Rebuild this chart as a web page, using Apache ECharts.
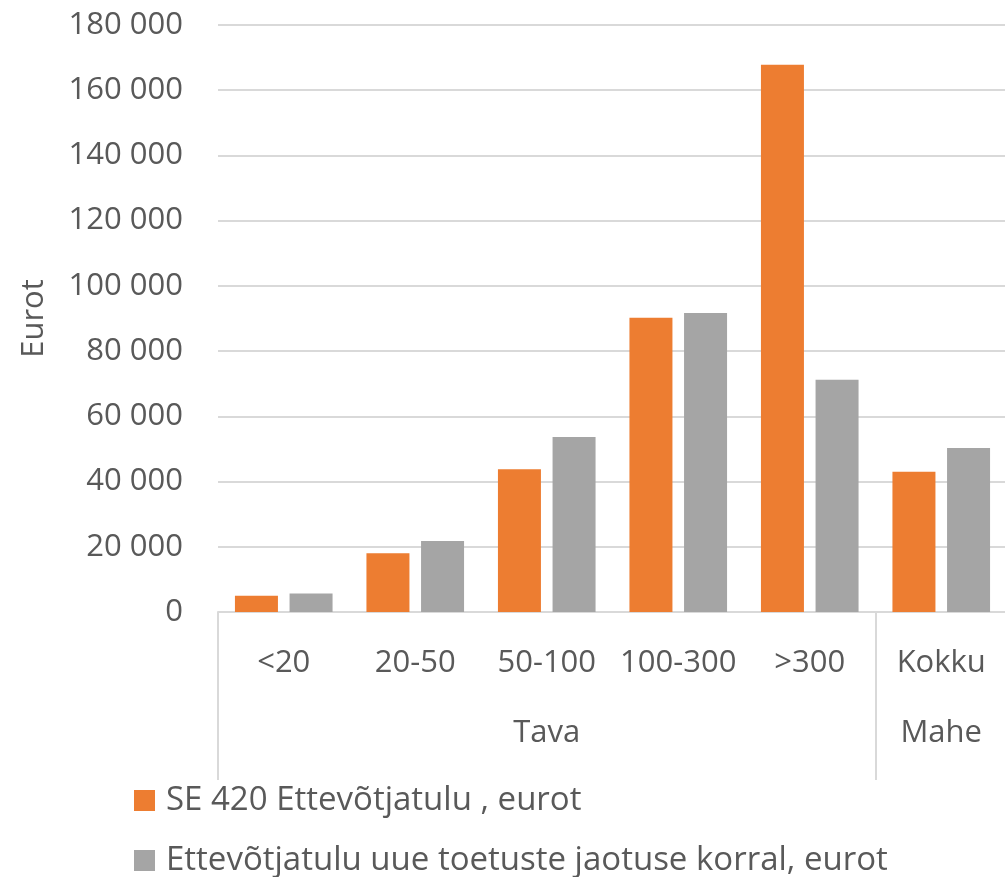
<!DOCTYPE html>
<html>
<head>
<meta charset="utf-8">
<script src="https://cdn.jsdelivr.net/npm/echarts@6/dist/echarts.min.js"></script>
<style>
  html, body { margin: 0; padding: 0; background: #fff; overflow: hidden; }
  #chart { width: 1005px; height: 877px; }
</style>
</head>
<body>
<div id="chart"></div>
<script>
// kategooriad ja grupid
var categories = ['<20', '20-50', '50-100', '100-300', '>300', 'Kokku'];
var groups = ['Tava', 'Mahe'];
var groupSizes = [5, 1];
var seriesNames = ['SE 420 Ettevõtjatulu , eurot', 'Ettevõtjatulu uue toetuste jaotuse korral, eurot'];
var se420 = [5000, 18000, 43800, 90200, 167800, 43000];
var uusJaotus = [5700, 21800, 53700, 91700, 71200, 50300];
var yTicks = [0, 20000, 40000, 60000, 80000, 100000, 120000, 140000, 160000, 180000];

var textColor = '#595959';
var fontFamily = '"Open Sans", sans-serif';
var chart = echarts.init(document.getElementById('chart'));

// grupi sildi asukoht (grupi keskkoht kategooriate skaalal)
var groupCenters = {};
var groupStarts = [];
var acc = 0;
groupSizes.forEach(function (n, i) {
  groupStarts.push(acc);
  groupCenters[(acc + n / 2).toFixed(1)] = groups[i];
  acc += n;
});

function legendFor(name, top) {
  return {
    orient: 'horizontal',
    left: 134,
    top: top,
    padding: 0,
    itemWidth: 21,
    itemHeight: 21,
    icon: 'rect',
    selectedMode: false,
    textStyle: { fontSize: 33, color: textColor, fontFamily: fontFamily, padding: [0, 0, 0, 6] },
    data: [name]
  };
}

chart.setOption({
  animation: false,
  textStyle: { fontFamily: fontFamily, color: textColor },
  grid: { left: 218, width: 789, top: 25, bottom: 265, outerBoundsMode: 'none', containLabel: false },
  legend: [legendFor(seriesNames[0], 784), legendFor(seriesNames[1], 844)],
  xAxis: [
    {
      type: 'category',
      data: categories,
      axisLine: { lineStyle: { color: '#d9d9d9', width: 2 } },
      axisTick: {
        show: true,
        length: 168,
        lineStyle: { color: '#d9d9d9', width: 2 },
        interval: function (index) { return groupStarts.indexOf(index) >= 0; }
      },
      axisLabel: { fontSize: 31, color: textColor, margin: 36, interval: 0 }
    },
    {
      type: 'value',
      position: 'bottom',
      min: 0,
      max: categories.length,
      interval: 0.5,
      axisLine: { show: false },
      axisTick: { show: false },
      splitLine: { show: false },
      axisLabel: {
        fontSize: 31,
        color: textColor,
        margin: 106,
        formatter: function (v) { return groupCenters[v.toFixed(1)] || ''; }
      }
    }
  ],
  yAxis: {
    type: 'value',
    min: yTicks[0],
    max: yTicks[yTicks.length - 1],
    interval: yTicks[1] - yTicks[0],
    name: 'Eurot',
    nameLocation: 'middle',
    nameGap: 168,
    nameTextStyle: { fontSize: 31, color: textColor },
    axisLine: { show: false },
    axisTick: { show: false },
    splitLine: { lineStyle: { color: '#d9d9d9', width: 2 } },
    axisLabel: {
      fontSize: 31,
      color: textColor,
      margin: 35,
      formatter: function (v) { return String(v).replace(/\B(?=(\d{3})+(?!\d))/g, ' '); }
    }
  },
  series: [
    {
      name: seriesNames[0],
      type: 'bar',
      data: se420,
      barWidth: 43,
      barGap: '27%',
      itemStyle: { color: '#ED7D31' }
    },
    {
      name: seriesNames[1],
      type: 'bar',
      data: uusJaotus,
      barWidth: 43,
      itemStyle: { color: '#A5A5A5' }
    }
  ]
});
</script>
</body>
</html>
